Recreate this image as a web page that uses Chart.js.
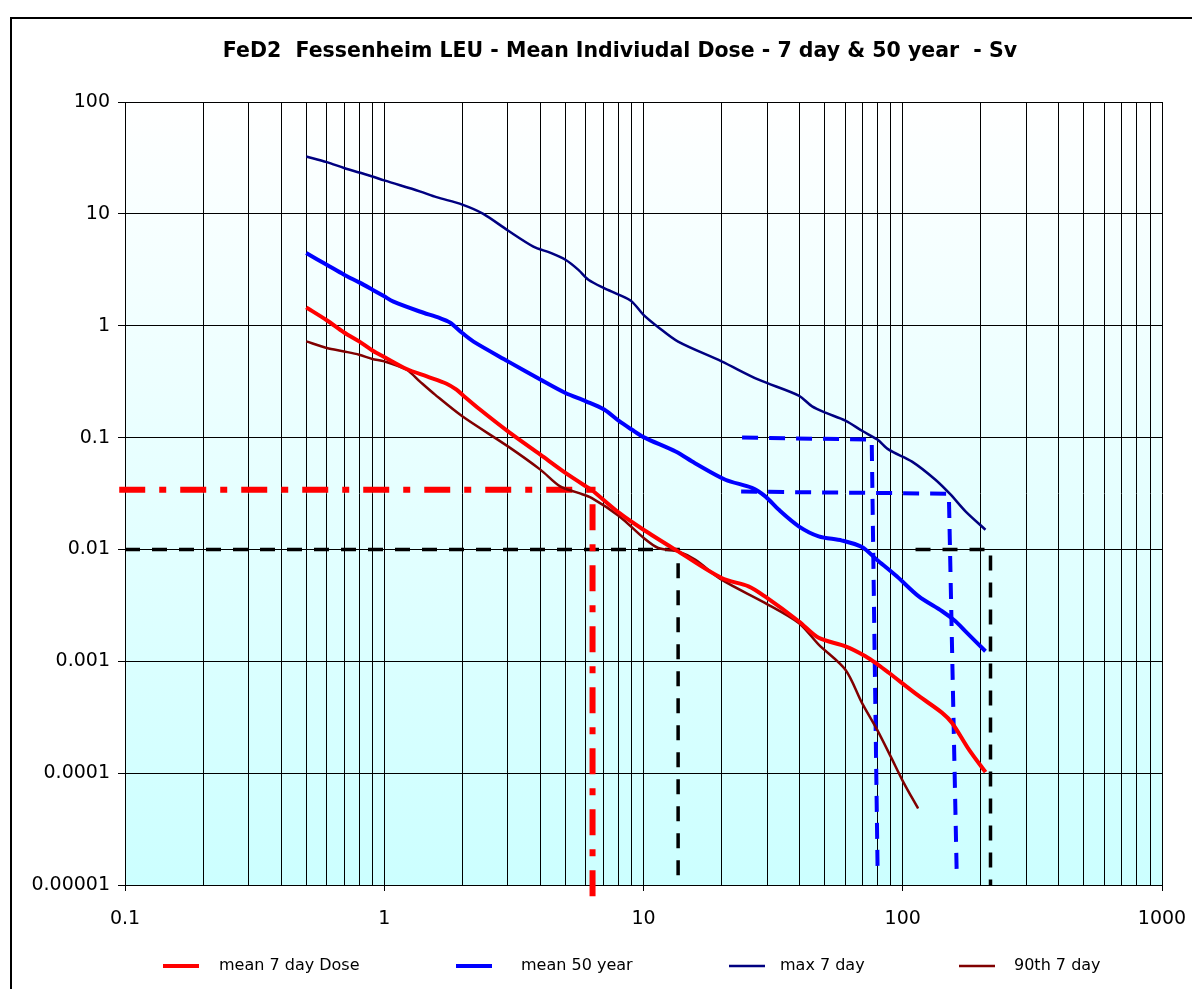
<!DOCTYPE html>
<html>
<head>
<meta charset="utf-8">
<script src="https://cdn.jsdelivr.net/npm/chart.js@4.4.1/dist/chart.umd.min.js"></script>
<style>
html, body { margin: 0; padding: 0; background: #fff; overflow: hidden; }
#frame { position: absolute; left: 10px; top: 17px; width: 1300px; height: 1100px; border: 2px solid #000; }
#wrap { position: absolute; left: 0; top: 0; width: 1192px; height: 989px; }
</style>
</head>
<body>
<div id="frame"></div>
<div id="wrap"><canvas id="doseChart" width="1192" height="989"></canvas></div>
<script>
// distances (km) and doses (Sv)
const meanDoseX = [0.5, 0.6, 0.7, 0.8, 0.9, 1, 1.22, 1.46, 1.74, 1.9, 2.02, 2.34, 3, 4, 5, 6, 6.3, 8.06, 10, 13.6, 20, 25.4, 29.4, 39.7, 47.4, 60.1, 71.8, 80.4, 88.3, 115.3, 141.9, 155, 179.8, 208.5];
const meanDoseY = [1.46, 1.12, 0.87, 0.724, 0.60, 0.525, 0.41, 0.352, 0.303, 0.268, 0.237, 0.178, 0.1136, 0.0703, 0.0483, 0.0366, 0.0342, 0.0212, 0.0150, 0.0096, 0.00556, 0.00468, 0.0038, 0.00228, 0.00162, 0.00136, 0.00111, 0.00093, 0.00079, 0.00049, 0.000346, 0.000281, 0.000163, 0.000102];

const mean50X = [0.5, 0.6, 0.7, 0.8, 0.9, 1, 1.08, 1.37, 1.64, 1.79, 2, 2.21, 3, 4, 5, 6, 7.05, 8.06, 9, 10, 13.3, 15.8, 20.7, 26.2, 29.5, 33.2, 39.7, 47.4, 58.3, 69.6, 79.4, 94.8, 115.3, 141.9, 159.7, 174.6, 208.5];
const mean50Y = [4.46, 3.51, 2.86, 2.44, 2.10, 1.83, 1.65, 1.34, 1.17, 1.07, 0.86, 0.72, 0.48, 0.33, 0.25, 0.211, 0.178, 0.140, 0.118, 0.101, 0.075, 0.059, 0.042, 0.0355, 0.0298, 0.0227, 0.0161, 0.0131, 0.0120, 0.0105, 0.0081, 0.00575, 0.0038, 0.0028, 0.00228, 0.00185, 0.00123];

const max7X = [0.5, 0.6, 0.7, 0.8, 0.9, 1, 1.37, 1.59, 2, 2.41, 3, 3.76, 4.36, 5, 5.61, 6.13, 7.05, 8.06, 9, 10, 11.4, 13.6, 20, 27.8, 39.7, 44.7, 50.6, 60.1, 69.6, 79.8, 88.3, 108.6, 133.7, 152.8, 174.6, 208.5];
const max7Y = [32.6, 29.0, 25.7, 23.4, 21.6, 19.9, 15.9, 14.1, 12.1, 10.0, 7.1, 5.1, 4.5, 3.89, 3.16, 2.58, 2.17, 1.89, 1.65, 1.25, 0.97, 0.72, 0.48, 0.329, 0.237, 0.19, 0.166, 0.142, 0.115, 0.096, 0.078, 0.061, 0.042, 0.031, 0.0219, 0.015];

const p90X = [0.5, 0.6, 0.7, 0.8, 0.9, 1, 1.22, 1.37, 1.57, 2, 3, 4, 4.77, 5.61, 6.3, 8.06, 10, 11.4, 13.6, 15.8, 20, 29.4, 39.7, 47.4, 60.1, 69.6, 79.6, 89.7, 100.9, 114.6];
const p90Y = [0.724, 0.632, 0.589, 0.551, 0.504, 0.48, 0.404, 0.318, 0.242, 0.155, 0.0834, 0.0517, 0.0366, 0.032, 0.0289, 0.0198, 0.0127, 0.0103, 0.0096, 0.0081, 0.00537, 0.00333, 0.0022, 0.00141, 0.00084, 0.000425, 0.000245, 0.000142, 0.0000819, 0.0000483];

// guide lines drawn on the chart
const redGuideX = [0.095, 6.36, 6.36];
const redGuideY = [0.0342, 0.0342, 0.0000076];
const blackGuide1X = [0.1, 13.6, 13.6];
const blackGuide1Y = [0.01, 0.01, 0.00001];
const blackGuide2X = [112, 218, 218];
const blackGuide2Y = [0.01, 0.01, 0.00001];
const blueGuide1X = [24, 75.9, 80];
const blueGuide1Y = [0.1, 0.096, 0.0000129];
const blueGuide2X = [23.8, 150.6, 161.6];
const blueGuide2Y = [0.0329, 0.0315, 0.0000117];

const seriesLabels = ['mean 7 day Dose', 'mean 50 year', 'max 7 day', '90th 7 day'];
const xDecades = [0.1, 1, 10, 100, 1000];
const xTickLabels = ['0.1', '1', '10', '100', '1000'];
const yDecades = [0.00001, 0.0001, 0.001, 0.01, 0.1, 1, 10, 100];
const yTickLabels = ['0.00001', '0.0001', '0.001', '0.01', '0.1', '1', '10', '100'];
const titleText = 'FeD2  Fessenheim LEU - Mean Indiviudal Dose - 7 day & 50 year  - Sv';

// vertical grid at 1..9 per decade
const xGridValues = [];
xDecades.forEach((d, i) => {
    if (i < xDecades.length - 1) {
        for (let k = 1; k < 10; k++) xGridValues.push(+(d * k).toPrecision(3));
    } else {
        xGridValues.push(d);
    }
});
const decadeIndex = v => xDecades.findIndex(d => Math.abs(d - v) < d * 1e-6);

const pts = (xs, ys) => xs.map((x, i) => ({ x: x, y: ys[i] }));

const plotBackground = {
    id: 'plotBackground',
    beforeDraw(chart) {
        const { ctx, chartArea: a } = chart;
        const g = ctx.createLinearGradient(0, a.top, 0, a.bottom);
        g.addColorStop(0, '#ffffff');
        g.addColorStop(1, '#ccffff');
        ctx.save();
        ctx.fillStyle = g;
        ctx.fillRect(a.left, a.top, a.right - a.left, a.bottom - a.top);
        ctx.restore();
    }
};

// title and legend row placed like the Excel original
const titleAndLegend = {
    id: 'titleAndLegend',
    afterDraw(chart) {
        const ctx = chart.ctx;
        ctx.save();
        ctx.fillStyle = '#000';
        ctx.textBaseline = 'middle';
        ctx.textAlign = 'center';
        ctx.font = 'bold 20.5px "DejaVu Sans"';
        ctx.fillText(titleText, 620, 52);

        const y = 966;
        const lineX = [163, 456, 729, 959];
        const textX = [219, 521, 780, 1014];
        ctx.textAlign = 'left';
        ctx.font = '16px "DejaVu Sans"';
        seriesLabels.forEach((label, i) => {
            const ds = chart.data.datasets[i];
            ctx.strokeStyle = ds.borderColor;
            ctx.lineWidth = ds.borderWidth;
            ctx.beginPath();
            ctx.moveTo(lineX[i], y);
            ctx.lineTo(lineX[i] + 36, y);
            ctx.stroke();
            ctx.fillText(label, textX[i], y);
        });
        ctx.restore();
    }
};

Chart.defaults.font.family = '"DejaVu Sans", sans-serif';
Chart.defaults.color = '#000';

const curve = (label, xs, ys, color, width) => ({
    label: label,
    data: pts(xs, ys),
    borderColor: color,
    borderWidth: width,
    pointRadius: 0,
    tension: 0.3,
    fill: false
});
const guide = (xs, ys, color, width, dash) => ({
    label: '',
    data: pts(xs, ys),
    borderColor: color,
    borderWidth: width,
    borderDash: dash,
    borderCapStyle: 'butt',
    pointRadius: 0,
    tension: 0,
    fill: false,
    clip: false
});

const ctx = document.getElementById('doseChart').getContext('2d');
const doseChart = new Chart(ctx, {
    type: 'line',
    data: {
        datasets: [
            curve(seriesLabels[0], meanDoseX, meanDoseY, '#ff0000', 4),
            curve(seriesLabels[1], mean50X, mean50Y, '#0000ff', 4),
            curve(seriesLabels[2], max7X, max7Y, '#000080', 2.5),
            curve(seriesLabels[3], p90X, p90Y, '#800000', 2.5),
            guide(redGuideX, redGuideY, '#ff0000', 6, [26, 14, 7, 14]),
            guide(blueGuide1X, blueGuide1Y, '#0000ff', 4, [16, 11]),
            guide(blueGuide2X, blueGuide2Y, '#0000ff', 4, [16, 11]),
            guide(blackGuide1X, blackGuide1Y, '#000000', 3.5, [15, 12]),
            guide(blackGuide2X, blackGuide2Y, '#000000', 3.5, [15, 12])
        ]
    },
    options: {
        responsive: false,
        animation: false,
        events: [],
        layout: { padding: { left: 0, right: 30, top: 102, bottom: 0 } },
        plugins: {
            legend: { display: false },
            tooltip: { enabled: false },
            title: { display: false }
        },
        scales: {
            x: {
                type: 'logarithmic',
                min: 0.1,
                max: 1000,
                afterBuildTicks: axis => { axis.ticks = xGridValues.map(v => ({ value: v })); },
                afterFit: scale => {
                    scale.height = 104;
                    scale.paddingLeft = 0;
                    scale.paddingRight = 0;
                },
                ticks: {
                    autoSkip: false,
                    maxRotation: 0,
                    padding: 17,
                    font: { size: 19 },
                    callback: v => { const i = decadeIndex(v); return i >= 0 ? xTickLabels[i] : ''; }
                },
                grid: {
                    color: '#000',
                    lineWidth: 1,
                    tickLength: 6,
                    tickColor: c => (c.tick && decadeIndex(c.tick.value) >= 0) ? '#000' : 'rgba(0,0,0,0)'
                },
                border: { color: '#000', width: 1 }
            },
            y: {
                type: 'logarithmic',
                min: 0.00001,
                max: 100,
                afterBuildTicks: axis => { axis.ticks = yDecades.map(v => ({ value: v })); },
                afterFit: scale => {
                    scale.width = 125;
                    scale.paddingTop = 0;
                    scale.paddingBottom = 0;
                },
                ticks: {
                    autoSkip: false,
                    padding: 8,
                    font: { size: 19 },
                    callback: (v, i) => yTickLabels[i]
                },
                grid: { color: '#000', lineWidth: 1, tickLength: 7, tickColor: '#000' },
                border: { color: '#000', width: 1 }
            }
        }
    },
    plugins: [plotBackground, titleAndLegend]
});
</script>
</body>
</html>
